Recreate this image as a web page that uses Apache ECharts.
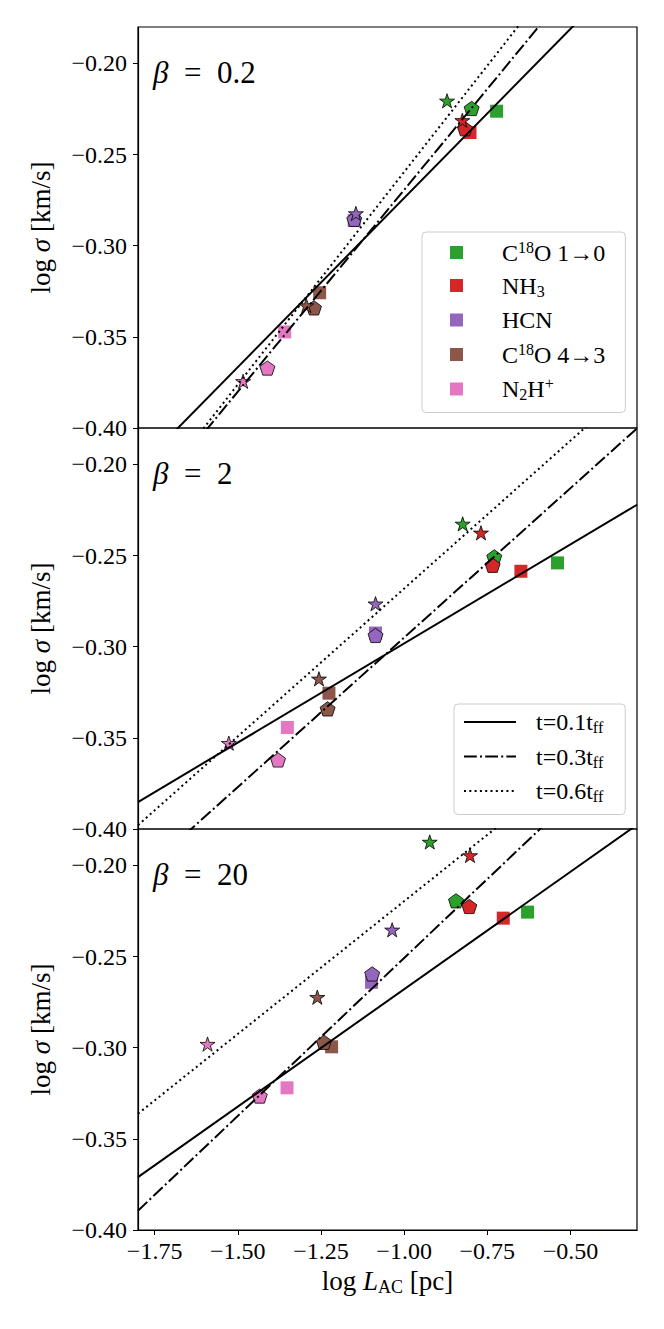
<!DOCTYPE html>
<html>
<head>
<meta charset="utf-8">
<title>log sigma - log L</title>
<script src="https://cdn.jsdelivr.net/npm/echarts@6/dist/echarts.min.js"></script>
<style>
  html, body { margin: 0; padding: 0; background: #fff; }
  #chart { width: 664px; height: 1329px; }
</style>
</head>
<body>
<div id="chart"></div>
<script>
// species, legend labels and colours
var species = ['C18O 1→0', 'NH3', 'HCN', 'C18O 4→3', 'N2H+'];
var speciesRich = ['{n|C}{sup|18}{n|O 1→0}', '{n|NH}{sub|3}', '{n|HCN}', '{n|C}{sup|18}{n|O 4→3}', '{n|N}{sub|2}{n|H}{sup|+}'];
var colors = ['#2ca02c', '#d62728', '#9467bd', '#8c564b', '#e377c2'];

var betas = ['0.2', '2', '20'];
var xTicks = [-1.75, -1.50, -1.25, -1.00, -0.75, -0.50];
var yTicks = [-0.40, -0.35, -0.30, -0.25, -0.20];

// [log L_AC, log sigma], one point per species (same order as species)
var b02Square = [[-0.722, -0.2262], [-0.802, -0.2379], [-1.150, -0.2862], [-1.254, -0.3258], [-1.359, -0.3473]];
var b02Star   = [[-0.871, -0.2205], [-0.825, -0.2312], [-1.145, -0.2823], [-1.294, -0.3328], [-1.484, -0.3744]];
var b02Pent   = [[-0.797, -0.2247], [-0.817, -0.2358], [-1.150, -0.2855], [-1.271, -0.3341], [-1.411, -0.3671]];

var b2Square = [[-0.539, -0.2540], [-0.649, -0.2586], [-1.086, -0.2925], [-1.226, -0.3255], [-1.351, -0.3443]];
var b2Star   = [[-0.824, -0.2326], [-0.769, -0.2375], [-1.086, -0.2764], [-1.256, -0.3176], [-1.527, -0.3529]];
var b2Pent   = [[-0.729, -0.2507], [-0.734, -0.2553], [-1.086, -0.2938], [-1.230, -0.3341], [-1.379, -0.3621]];

var b20Square = [[-0.629, -0.2256], [-0.702, -0.2289], [-1.098, -0.2641], [-1.218, -0.2995], [-1.352, -0.3220]];
var b20Star   = [[-0.923, -0.1871], [-0.802, -0.1945], [-1.036, -0.2353], [-1.261, -0.2723], [-1.591, -0.2980]];
var b20Pent   = [[-0.844, -0.2194], [-0.804, -0.2225], [-1.096, -0.2595], [-1.241, -0.2970], [-1.434, -0.3265]];

// fit lines, read at the two x limits
var lineNames = ['t=0.1tff', 't=0.3tff', 't=0.6tff'];
var lineRich = ['{n|t=0.1t}{sub|ff}', '{n|t=0.3t}{sub|ff}', '{n|t=0.6t}{sub|ff}'];
var b02Lines = [
  [[-1.80, -0.4223], [-0.30, -0.1439]],
  [[-1.80, -0.4465], [-0.30, -0.1144]],
  [[-1.80, -0.4461], [-0.30, -0.0963]]
];
var b2Lines = [
  [[-1.80, -0.3852], [-0.30, -0.2221]],
  [[-1.80, -0.4262], [-0.30, -0.1802]],
  [[-1.80, -0.3979], [-0.30, -0.1545]]
];
var b20Lines = [
  [[-1.80, -0.3710], [-0.30, -0.1777]],
  [[-1.80, -0.3894], [-0.30, -0.1295]],
  [[-1.80, -0.3362], [-0.30, -0.1176]]
];

var panels = [
  { sq: b02Square, st: b02Star, pe: b02Pent, lines: b02Lines },
  { sq: b2Square, st: b2Star, pe: b2Pent, lines: b2Lines },
  { sq: b20Square, st: b20Star, pe: b20Pent, lines: b20Lines }
];

var FONT = 'Liberation Serif';
var lineTypes = ['solid', [12.8, 3.2, 2, 3.2], [2, 3.3]];
var starPath = 'path://M50 0 L61.23 34.55 L97.55 34.55 L68.17 55.9 L79.39 90.45 L50 69.1 L20.61 90.45 L31.83 55.9 L2.45 34.55 L38.77 34.55 Z';
var pentPath = 'path://M50 0 L97.55 34.55 L79.39 90.45 L20.61 90.45 L2.45 34.55 Z';
var gridTops = [27, 428, 829];

function richStyle(size) {
  var base = { fontFamily: FONT, fontWeight: 'normal', color: '#000' };
  return {
    n: Object.assign({ fontSize: size, lineHeight: size + 3 }, base),
    i: Object.assign({ fontSize: size, lineHeight: size + 3, fontStyle: 'italic' }, base),
    sup: Object.assign({ fontSize: Math.round(size * 0.65), lineHeight: 14, verticalAlign: 'top' }, base),
    sub: Object.assign({ fontSize: Math.round(size * 0.65), lineHeight: 14, verticalAlign: 'bottom' }, base)
  };
}

function fmt(v) {
  return (v < 0 ? '\u2212' : '') + Math.abs(v).toFixed(2);
}

var grids = [], xAxes = [], yAxes = [], titles = [], series = [];

panels.forEach(function (p, i) {
  grids.push({
    left: 138, width: 499, top: gridTops[i], height: 401,
    show: true, borderColor: '#000', borderWidth: 1.2, backgroundColor: 'transparent'
  });
  var bottom = (i === 2);
  xAxes.push({
    type: 'value', gridIndex: i, min: -1.80, max: -0.30,
    axisLine: { show: bottom, onZero: false, lineStyle: { color: '#000', width: 1.2 } },
    axisTick: { show: bottom, length: 5, customValues: xTicks, lineStyle: { color: '#000', width: 1 } },
    axisLabel: { show: bottom, customValues: xTicks, margin: 9, formatter: fmt, fontFamily: FONT, fontSize: 24, color: '#000' },
    splitLine: { show: false },
    name: bottom ? '{n|log }{i|L}{sub|AC}{n| [pc]}' : '',
    nameLocation: 'middle', nameGap: 36,
    nameTextStyle: { rich: richStyle(27) }
  });
  yAxes.push({
    type: 'value', gridIndex: i, min: -0.40, max: -0.18,
    axisLine: { show: true, onZero: false, lineStyle: { color: '#000', width: 1.2 } },
    axisTick: { show: true, length: 5, customValues: yTicks, lineStyle: { color: '#000', width: 1 } },
    axisLabel: { customValues: yTicks, margin: 11, formatter: fmt, fontFamily: FONT, fontSize: 24, color: '#000' },
    splitLine: { show: false },
    name: '{n|log }{i|σ}{n| [km/s]}',
    nameLocation: 'middle', nameRotate: 90, nameGap: 82,
    nameTextStyle: { rich: richStyle(27) }
  });
  titles.push({
    text: '{i|β}{n|  =  ' + betas[i] + '}',
    left: 153, top: gridTops[i] + 28, padding: 0,
    textStyle: { fontWeight: 'normal', rich: richStyle(31) }
  });

  // squares, one series per species so the legend picks up the colour
  species.forEach(function (name, k) {
    series.push({
      type: 'scatter', name: name, xAxisIndex: i, yAxisIndex: i,
      data: [p.sq[k]], symbol: 'rect', symbolSize: 13,
      itemStyle: { color: colors[k], opacity: 1 }, z: 2, silent: true
    });
  });
  series.push({
    type: 'scatter', name: 'pentagons', xAxisIndex: i, yAxisIndex: i,
    symbol: pentPath, symbolSize: 15, symbolKeepAspect: true, z: 3, silent: true,
    itemStyle: { borderColor: '#000', borderWidth: 0.8, opacity: 1 },
    data: p.pe.map(function (v, k) { return { value: v, itemStyle: { color: colors[k] } }; })
  });
  series.push({
    type: 'scatter', name: 'stars', xAxisIndex: i, yAxisIndex: i,
    symbol: starPath, symbolSize: 15, symbolKeepAspect: true, z: 4, silent: true,
    itemStyle: { borderColor: '#000', borderWidth: 0.8, opacity: 1 },
    data: p.st.map(function (v, k) { return { value: v, itemStyle: { color: colors[k] } }; })
  });
  p.lines.forEach(function (l, k) {
    series.push({
      type: 'line', name: lineNames[k], xAxisIndex: i, yAxisIndex: i,
      data: l, symbol: 'none', showSymbol: false, clip: true, z: 5, silent: true,
      lineStyle: { color: '#000', width: 2, type: lineTypes[k] },
      itemStyle: { color: '#000' }
    });
  });
});

var legendBox = {
  orient: 'vertical', selectedMode: false,
  backgroundColor: 'rgba(255,255,255,0.8)', borderColor: '#cccccc', borderWidth: 1, borderRadius: 4
};

var option = {
  backgroundColor: '#fff',
  animation: false,
  title: titles,
  grid: grids,
  xAxis: xAxes,
  yAxis: yAxes,
  legend: [
    Object.assign({}, legendBox, {
      left: 422, top: 232, padding: [7, 20, 10, 28],
      itemWidth: 13, itemHeight: 13, itemGap: 9,
      data: species.map(function (s) { return { name: s, icon: 'rect' }; }),
      formatter: function (name) { return speciesRich[species.indexOf(name)]; },
      textStyle: { padding: [0, 0, 0, 34], rich: richStyle(24) }
    }),
    Object.assign({}, legendBox, {
      left: 454, top: 704, padding: [6, 22, 10, 9],
      itemWidth: 52, itemHeight: 14, itemGap: 9,
      data: lineNames,
      itemStyle: { opacity: 0, color: 'rgba(0,0,0,0)', borderWidth: 0 },
      formatter: function (name) { return lineRich[lineNames.indexOf(name)]; },
      textStyle: { padding: [0, 0, 0, 15], rich: richStyle(24) }
    })
  ],
  series: series
};

var chart = echarts.init(document.getElementById('chart'), null, { renderer: 'svg' });
chart.setOption(option);
window.onresize = function () { chart.resize(); };
</script>
</body>
</html>
